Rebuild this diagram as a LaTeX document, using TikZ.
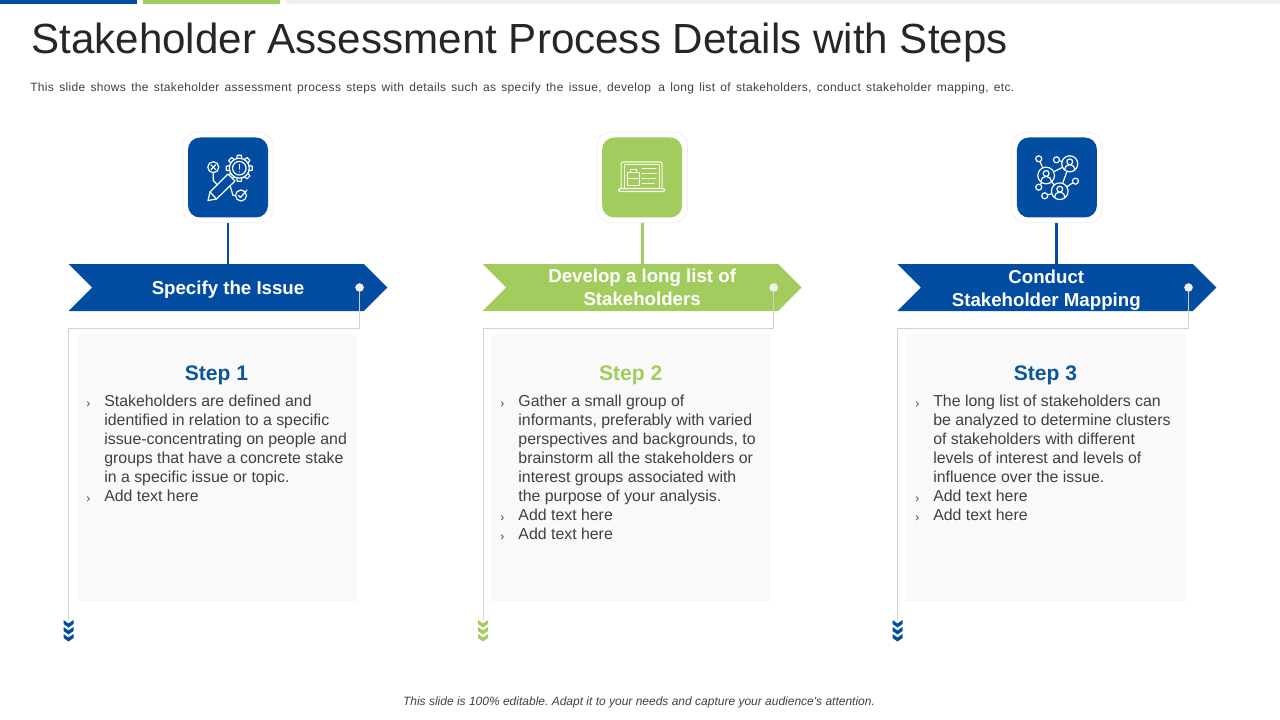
\documentclass[tikz,border=0pt]{standalone}
\usepackage{fontspec}
\setmainfont{Liberation Sans}
\newfontfamily\stksub[LetterSpace=2.8,WordSpace=1.45]{Liberation Sans}
\newfontfamily\stkfoot{Liberation Sans}
\usetikzlibrary{shapes.symbols}
\definecolor{stkblue}{HTML}{024DA1}
\definecolor{stkgreen}{HTML}{A3CC5F}
\definecolor{stkhead}{HTML}{0B5797}
\definecolor{stktext}{HTML}{404040}
\newcommand{\stkbul}{\llap{\raisebox{-0.5pt}{\small ›}\hspace{10.5pt}}}
\frenchspacing
\begin{document}
\begin{tikzpicture}[x=0.75pt,y=-0.75pt,
    icon frame/.style={rectangle,rounded corners=11pt,draw=black!7,fill=white,line width=0.5pt,minimum size=68pt,inner sep=0pt},
    icon box/.style={rectangle,rounded corners=9pt,minimum size=60pt,inner sep=0pt},
    arrow node/.style={signal,signal to=east,signal from=west,signal pointer angle=90,minimum width=239.2pt,minimum height=35.25pt,inner sep=0pt},
    arrow text/.style={font=\fontsize{14}{17.25}\selectfont\bfseries,text=white,align=center,inner sep=0pt},
    dot node/.style={circle,fill=white!95!black,draw=white,line width=0.3pt,minimum size=6pt,inner sep=0pt},
    panel node/.style={rectangle,fill=black!2.5,minimum width=210pt,minimum height=201pt,inner sep=0pt},
    step head/.style={font=\fontsize{15.8}{19}\selectfont\bfseries,inner sep=0pt},
    step text/.style={font=\fontsize{11.9}{14.25}\selectfont,text=stktext,align=left,anchor=north west,inner sep=0pt},
    leader/.style={draw=black!18,line width=0.6pt},
    stem/.style={line width=2.2pt},
    icon line/.style={draw=white,line width=0.9pt,line join=round,line cap=round},
    chevs/.pic={
        \path[pic actions] (-5,0) -- (0,3.5) -- (5,0) -- (5,4) -- (0,7.5) -- (-5,4) -- cycle;
        \path[pic actions] (-5,7) -- (0,10.5) -- (5,7) -- (5,11) -- (0,14.5) -- (-5,11) -- cycle;
        \path[pic actions] (-5,14) -- (0,17.5) -- (5,14) -- (5,18) -- (0,21.5) -- (-5,18) -- cycle;
    },
    issue icon/.pic={
        \draw[icon line] (11.3,-9.3) circle[radius=10];
        \draw[icon line] (11.3,-9.3) circle[radius=6.8];
        \foreach \a in {0,45,...,315}
            \draw[icon line,shift={(11.3,-9.3)},rotate=\a] (-2.5,-10) -- (-2,-13) -- (2,-13) -- (2.5,-10);
        \draw[icon line] (11.3,-13) -- (11.3,-8.5);
        \draw[icon line] (11.3,-5.6) -- (11.3,-5.4);
        \draw[icon line,fill=stkblue] (-20,23) -- (-18,14.5) -- (0,-3.5) -- (7,3.5) -- (-11.5,21.5) -- cycle;
        \draw[icon line] (-18,14.5) -- (-11.5,21.5);
        \draw[icon line] (-14.7,-10.3) circle[radius=5.5];
        \draw[icon line] (-17,-12.6) -- (-12.4,-8) (-17,-8) -- (-12.4,-12.6);
        \draw[icon line] (-14.7,-4.8) -- (-14.7,3) -- (-11,7);
        \draw[icon line] (13,18) circle[radius=5.5];
        \draw[icon line] (2,8) -- (5,18) -- (7.5,18);
        \draw[icon line] (10.5,18) -- (12.5,20) -- (19,12.5);
    },
    laptop icon/.pic={
        \draw[icon line,draw=white!90!stkgreen,rounded corners=1pt] (-21,11) -- (-21,-15.5) -- (20,-15.5) -- (20,11);
        \draw[icon line,draw=white!90!stkgreen,line width=0.6pt] (-18,11) -- (-18,-13) -- (17,-13) -- (17,11);
        \draw[icon line,draw=white!90!stkgreen,rounded corners=1.5pt] (-23.5,11) -- (22.5,11) -- (22.5,14) -- (-23.5,14) -- cycle;
        \draw[icon line,draw=white!90!stkgreen,line width=0.6pt] (-15,-5) rectangle (-3,8) (-15,1) -- (-3,1) (-12,-5) -- (-12,-8) -- (-6,-8) -- (-6,-5);
        \draw[icon line,draw=white!90!stkgreen,line width=0.6pt] (0,-8.7) -- (14,-8.7) (0,-3.7) -- (14,-3.7) (0,1.3) -- (14,1.3) (0,6.3) -- (12,6.3);
    },
    network icon/.pic={
        \node[circle,icon line,inner sep=0pt,minimum size=12pt] (n1) at (12.8,-13.7) {};
        \node[circle,icon line,inner sep=0pt,minimum size=12.5pt] (n2) at (-10.8,-2) {};
        \node[circle,icon line,inner sep=0pt,minimum size=12.5pt] (n3) at (2.8,13.7) {};
        \node[circle,icon line,inner sep=0pt,minimum size=4.5pt] (s1) at (-18.2,-18.7) {};
        \node[circle,icon line,inner sep=0pt,minimum size=4.5pt] (s2) at (-0.5,-17.7) {};
        \node[circle,icon line,inner sep=0pt,minimum size=4.5pt] (s3) at (18.5,3.7) {};
        \node[circle,icon line,inner sep=0pt,minimum size=4.5pt] (s4) at (-18.2,9.7) {};
        \node[circle,icon line,inner sep=0pt,minimum size=4.5pt] (s5) at (-12.2,18.3) {};
        \path[icon line]
        (s1) edge (n2)
        (s2) edge (n1)
        (s3) edge (n3)
        (s4) edge (n2)
        (s5) edge (n3)
        (n1) edge (n2)
        (n1) edge (n3)
        (n2) edge (n3);
        \foreach \c in {n1,n2,n3} {
            \draw[icon line] ([yshift=1.5pt]\c.center) circle[radius=2.2pt];
            \draw[icon line] ([xshift=-4pt,yshift=-4.6pt]\c.center) arc[start angle=180,end angle=0,radius=4pt];
        }
    }]

    \useasboundingbox (0,0) rectangle (1280,720);

    \fill[stkblue] (0,0) rectangle (137,4);
    \fill[stkgreen] (143,0) rectangle (280,4);
    \fill[black!6] (286,0) rectangle (1280,4);

    \node[font=\fontsize{31.6}{38}\selectfont,text=black!85,anchor=base west,inner sep=0pt] (title) at (31,53.8) {Stakeholder Assessment Process Details with Steps};
    \node[font=\stksub\fontsize{9}{11}\selectfont,text=stktext,anchor=base west,inner sep=0pt] (sub) at (30,92) {This slide shows the stakeholder assessment process steps with details such as specify the issue, develop\, a long list of stakeholders, conduct stakeholder mapping, etc.};
    \node[font=\stkfoot\fontsize{9}{11}\selectfont\itshape,text=stktext,anchor=base,inner sep=0pt] (foot) at (639,705) {This slide is 100\% editable. Adapt it to your needs and capture your audience's attention.};

    \node[icon frame] (f1) at (228,177.5) {};
    \node[icon frame,right of=f1,node distance=310.6pt] (f2) {};
    \node[icon frame,right of=f2,node distance=311.1pt] (f3) {};
    \node[icon box,fill=stkblue] (b1) at (f1) {};
    \node[icon box,fill=stkgreen] (b2) at (f2) {};
    \node[icon box,fill=stkblue] (b3) at (f3) {};
    \pic at (b1) {issue icon};
    \pic at (b2) {laptop icon};
    \pic at (b3) {network icon};

    \node[arrow node,fill=stkblue,below of=f1,node distance=82.5pt] (a1) {};
    \node[arrow node,fill=stkgreen,below of=f2,node distance=82.5pt] (a2) {};
    \node[arrow node,fill=stkblue,below of=f3,node distance=82.5pt] (a3) {};
    \node[arrow text,yshift=-1.5pt] (t1) at (a1) {Specify the Issue};
    \node[arrow text] (t2) at (a2) {Develop a long list of\\Stakeholders};
    \node[arrow text,xshift=-8pt,yshift=-1.8pt] (t3) at (a3) {Conduct\\Stakeholder Mapping};

    \draw[stem,stkblue] (f1) -- (a1);
    \draw[stem,stkgreen] (f2) -- (a2);
    \draw[stem,stkblue] (f3) -- (a3);

    \node[panel node,below of=a1,node distance=135.4pt,xshift=-8pt] (p1) {};
    \node[panel node,below of=a2,node distance=135.4pt,xshift=-8pt] (p2) {};
    \node[panel node,below of=a3,node distance=135.4pt,xshift=-8pt] (p3) {};

    \node[dot node,xshift=-21.2pt] (d1) at (a1.east) {};
    \node[dot node,xshift=-21.2pt] (d2) at (a2.east) {};
    \node[dot node,xshift=-21.2pt] (d3) at (a3.east) {};
    \coordinate (k1) at (68.5,328);
    \coordinate (k2) at (483,328);
    \coordinate (k3) at (897.5,328);
    \coordinate (h1) at (68.5,620);
    \coordinate (h2) at (483,620);
    \coordinate (h3) at (897.5,620);
    \draw[leader] (d1) |- (k1) -- (h1);
    \draw[leader] (d2) |- (k2) -- (h2);
    \draw[leader] (d3) |- (k3) -- (h3);
    \pic[fill=stkblue] at (h1) {chevs};
    \pic[fill=stkgreen] at (h2) {chevs};
    \pic[fill=stkblue] at (h3) {chevs};

    \node[step head,text=stkhead,below of=p1,node distance=-69.9pt,xshift=-0.6pt] (s1) {Step 1};
    \node[step head,text=stkgreen,below of=p2,node distance=-69.9pt,xshift=-0.6pt] (s2) {Step 2};
    \node[step head,text=stkhead,below of=p3,node distance=-69.9pt,xshift=-0.6pt] (s3) {Step 3};

    \node[step text] (x1) at ([xshift=20.25pt,yshift=-46pt]p1.north west) {\stkbul Stakeholders are defined and\\identified in relation to a specific\\issue-concentrating on people and\\groups that have a concrete stake\\in a specific issue or topic.\\\stkbul Add text here};
    \node[step text] (x2) at ([xshift=20.25pt,yshift=-46pt]p2.north west) {\stkbul Gather a small group of\\informants, preferably with varied\\perspectives and backgrounds, to\\brainstorm all the stakeholders or\\interest groups associated with\\the purpose of your analysis.\\\stkbul Add text here\\\stkbul Add text here};
    \node[step text] (x3) at ([xshift=20.25pt,yshift=-46pt]p3.north west) {\stkbul The long list of stakeholders can\\be analyzed to determine clusters\\of stakeholders with different\\levels of interest and levels of\\influence over the issue.\\\stkbul Add text here\\\stkbul Add text here};
\end{tikzpicture}
\end{document}
